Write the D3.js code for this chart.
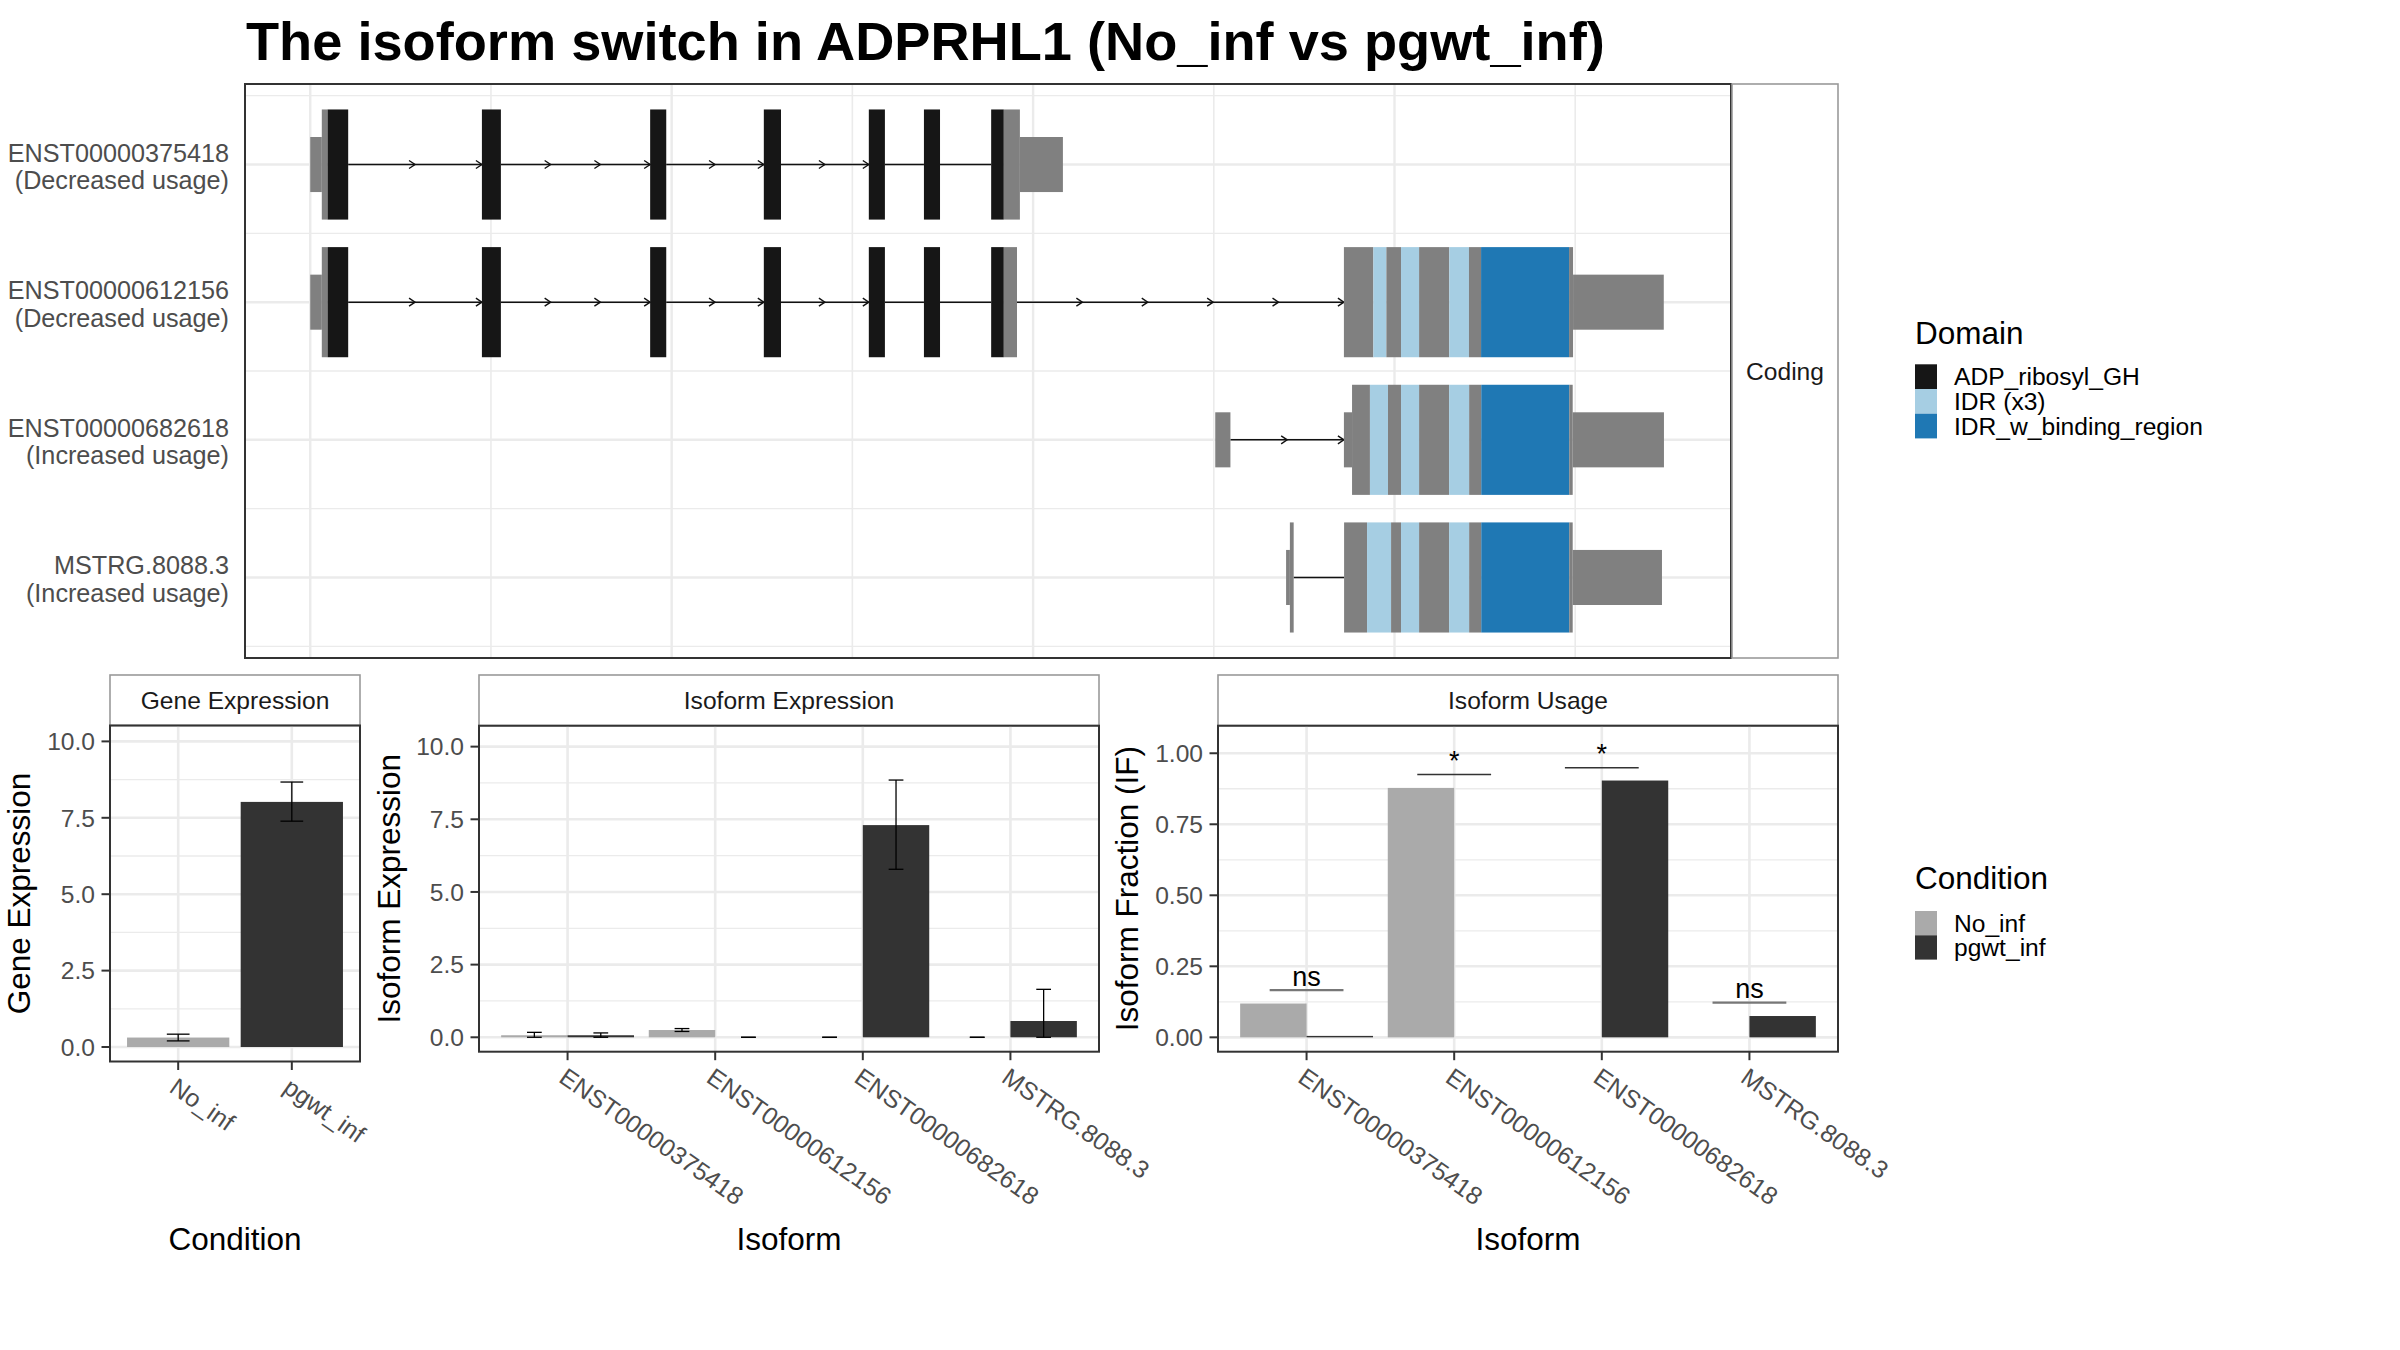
<!DOCTYPE html>
<html><head><meta charset="utf-8">
<script src="https://cdn.jsdelivr.net/npm/d3@7"></script>
<style>
body{margin:0;background:#fff}
svg{display:block}
text{font-family:"Liberation Sans",Arial,Helvetica,sans-serif}
</style>
</head><body>
<svg id="chart" width="2400" height="1350"></svg>
<script>
// ---------------- DATA ----------------
const titleText = "The isoform switch in ADPRHL1 (No_inf vs pgwt_inf)";
const isoforms = ["ENST00000375418", "ENST00000612156", "ENST00000682618", "MSTRG.8088.3"];
const usageNotes = ["(Decreased usage)", "(Decreased usage)", "(Increased usage)", "(Increased usage)"];
const stripLabel = "Coding";
const domainNames = ["ADP_ribosyl_GH", "IDR (x3)", "IDR_w_binding_region"];
const conditions = ["No_inf", "pgwt_inf"];

// exon pieces per transcript: [start, end, kind]  (rescaled genomic coordinate)
// kind: U = UTR, C = coding without domain, A = ADP_ribosyl_GH, I = IDR, B = IDR_w_binding_region
const exons375418 = [
  [0, 64, "U"], [64, 96, "C"], [96, 210, "A"], [950, 1055, "A"], [1881, 1970, "A"],
  [2510, 2605, "A"], [3091, 3180, "A"], [3396, 3485, "A"], [3768, 3838, "A"],
  [3838, 3927, "C"], [3927, 4165, "U"]
];
const exons612156 = [
  [0, 64, "U"], [64, 96, "C"], [96, 210, "A"], [950, 1055, "A"], [1881, 1970, "A"],
  [2510, 2605, "A"], [3091, 3180, "A"], [3396, 3485, "A"], [3768, 3838, "A"],
  [3838, 3911, "C"],
  [5720, 5883, "C"], [5883, 5955, "I"], [5955, 6036, "C"], [6036, 6136, "I"], [6136, 6303, "C"],
  [6303, 6412, "I"], [6412, 6479, "C"], [6479, 6966, "B"], [6966, 6988, "C"], [6988, 7490, "U"]
];
const exons682618 = [
  [5008, 5092, "U"],
  [5720, 5765, "U"], [5765, 5864, "C"], [5864, 5964, "I"], [5964, 6036, "C"], [6036, 6136, "I"],
  [6136, 6302, "C"], [6302, 6413, "I"], [6413, 6480, "C"], [6480, 6967, "B"], [6967, 6986, "C"],
  [6986, 7491, "U"]
];
const exonsMSTRG = [
  [5400, 5421, "U"], [5421, 5442, "C"],
  [5721, 5848, "C"], [5848, 5981, "I"], [5981, 6036, "C"], [6036, 6136, "I"], [6136, 6302, "C"],
  [6302, 6413, "I"], [6413, 6480, "C"], [6480, 6967, "B"], [6967, 6986, "C"], [6986, 7480, "U"]
];
// introns: [start, end, number of direction arrows]
const introns375418 = [[210, 950, 2], [1055, 1881, 3], [1970, 2510, 2], [2605, 3091, 2], [3180, 3396, 0], [3485, 3768, 0]];
const introns612156 = [[210, 950, 2], [1055, 1881, 3], [1970, 2510, 2], [2605, 3091, 2], [3180, 3396, 0], [3485, 3768, 0], [3911, 5720, 5]];
const introns682618 = [[5092, 5720, 2]];
const intronsMSTRG = [[5442, 5721, 0]];
const structureTicks = [0, 1000, 2000, 3000, 4000, 5000, 6000, 7000];

// Gene expression
const geneExpr = [0.31, 8.02];
const geneLo = [0.20, 7.39];
const geneHi = [0.42, 8.67];
const exprTicks = [0, 2.5, 5, 7.5, 10];

// Isoform expression (per isoform)
const isoExprNoInf = [0.07, 0.25, 0, 0];
const isoExprPgwt = [0.07, 0, 7.30, 0.56];
const isoExprNoInfLo = [0, 0.20, 0, 0];
const isoExprNoInfHi = [0.17, 0.30, 0, 0];
const isoExprPgwtLo = [0, 0, 5.78, 0];
const isoExprPgwtHi = [0.15, 0, 8.85, 1.65];

// Isoform usage (IF)
const isoUsageNoInf = [0.119, 0.878, 0, 0];
const isoUsagePgwt = [0.005, 0, 0.904, 0.075];
const usageSigText = ["ns", "*", "*", "ns"];
const usageSigY = [0.166, 0.925, 0.949, 0.122];
const usageTicks = [0, 0.25, 0.5, 0.75, 1.0];

// ---------------- STYLE ----------------
const domainColor = {A: "#161616", I: "#A6CEE3", B: "#1F78B4"};
const exonGray = "#808080";
const condColor = ["#AAAAAA", "#333333"];
const gridCol = "#EBEBEB";
const tickTextCol = "#4D4D4D";
const borderCol = "#333333";
const stripBorder = "#9A9A9A";

const svg = d3.select("#chart");
svg.append("rect").attr("width", 2400).attr("height", 1350).attr("fill", "#fff");

// title
svg.append("text").attr("x", 246).attr("y", 60).attr("font-size", 54.2).attr("font-weight", "bold")
  .attr("fill", "#000").text(titleText);

// ---------------- TOP: transcript structure ----------------
const TP = {x0: 245, x1: 1731, y0: 84, y1: 658};
const xS = d3.scaleLinear().domain([-361, 7862]).range([TP.x0, TP.x1]);
const yS = d3.scaleLinear().domain([4.585, 0.415]).range([TP.y0, TP.y1]);
const gTop = svg.append("g");
gTop.append("rect").attr("x", TP.x0).attr("y", TP.y0).attr("width", TP.x1 - TP.x0).attr("height", TP.y1 - TP.y0).attr("fill", "#fff");
// grid
[0.5, 1.5, 2.5, 3.5, 4.5].forEach(v => gTop.append("line").attr("x1", TP.x0).attr("x2", TP.x1)
  .attr("y1", yS(v)).attr("y2", yS(v)).attr("stroke", gridCol).attr("stroke-width", 1.3));
[1, 2, 3, 4].forEach(v => gTop.append("line").attr("x1", TP.x0).attr("x2", TP.x1)
  .attr("y1", yS(v)).attr("y2", yS(v)).attr("stroke", gridCol).attr("stroke-width", 2.4));
structureTicks.forEach((v, i) => gTop.append("line").attr("y1", TP.y0).attr("y2", TP.y1)
  .attr("x1", xS(v)).attr("x2", xS(v)).attr("stroke", gridCol).attr("stroke-width", i % 2 === 0 ? 2.4 : 1.6));

const allExons = [exons375418, exons612156, exons682618, exonsMSTRG];
const allIntrons = [introns375418, introns612156, introns682618, intronsMSTRG];
isoforms.forEach((iso, i) => {
  const row = 4 - i;
  const cy = yS(row);
  // introns
  allIntrons[i].forEach(([s, e, n]) => {
    gTop.append("line").attr("x1", xS(s)).attr("x2", xS(e)).attr("y1", cy).attr("y2", cy)
      .attr("stroke", "#111").attr("stroke-width", 1.6);
    for (let k = 1; k <= n; k++) {
      const tip = xS(s + (e - s) * k / n);
      gTop.append("path").attr("d", `M${tip - 6},${cy - 4}L${tip},${cy}L${tip - 6},${cy + 4}`)
        .attr("fill", "none").attr("stroke", "#111").attr("stroke-width", 1.4);
    }
  });
  // exon pieces
  allExons[i].forEach(([s, e, kind]) => {
    const half = kind === "U" ? 0.2 : 0.4;
    const col = kind === "U" || kind === "C" ? exonGray : domainColor[kind];
    gTop.append("rect").attr("x", xS(s)).attr("width", xS(e) - xS(s))
      .attr("y", yS(row + half)).attr("height", yS(row - half) - yS(row + half)).attr("fill", col);
  });
  // labels
  gTop.append("text").attr("x", 229).attr("y", cy - 3).attr("text-anchor", "end")
    .attr("font-size", 25.2).attr("fill", tickTextCol).text(iso);
  gTop.append("text").attr("x", 229).attr("y", cy + 24.5).attr("text-anchor", "end")
    .attr("font-size", 25.2).attr("fill", tickTextCol).text(usageNotes[i]);
});
gTop.append("rect").attr("x", TP.x0).attr("y", TP.y0).attr("width", TP.x1 - TP.x0).attr("height", TP.y1 - TP.y0)
  .attr("fill", "none").attr("stroke", borderCol).attr("stroke-width", 2);
// right strip
gTop.append("rect").attr("x", TP.x1 + 1).attr("y", TP.y0).attr("width", 106).attr("height", TP.y1 - TP.y0)
  .attr("fill", "#fff").attr("stroke", stripBorder).attr("stroke-width", 1.6);
gTop.append("text").attr("x", TP.x1 + 54).attr("y", (TP.y0 + TP.y1) / 2 + 8.8).attr("text-anchor", "middle")
  .attr("font-size", 24.6).attr("fill", "#1A1A1A").text(stripLabel);

// ---------------- BOTTOM PANELS ----------------
function panel(cfg) {
  const g = svg.append("g");
  const x = d3.scalePoint().domain(cfg.cats).range([cfg.x0, cfg.x1]).padding(0.6);
  const step = x.step();
  const y = d3.scaleLinear().domain(cfg.domain).range([cfg.yb, cfg.yt]);
  // strip
  g.append("rect").attr("x", cfg.x0).attr("y", cfg.ys).attr("width", cfg.x1 - cfg.x0).attr("height", cfg.yt - cfg.ys)
    .attr("fill", "#fff").attr("stroke", stripBorder).attr("stroke-width", 1.6);
  g.append("text").attr("x", (cfg.x0 + cfg.x1) / 2).attr("y", (cfg.ys + cfg.yt) / 2 + 8.8)
    .attr("text-anchor", "middle").attr("font-size", 24.6).attr("fill", "#1A1A1A").text(cfg.strip);
  // grid
  const t = cfg.ticks;
  const minor = t.slice(1).map((v, i) => (v + t[i]) / 2);
  minor.forEach(v => g.append("line").attr("x1", cfg.x0).attr("x2", cfg.x1).attr("y1", y(v)).attr("y2", y(v))
    .attr("stroke", gridCol).attr("stroke-width", 1.3));
  t.forEach(v => g.append("line").attr("x1", cfg.x0).attr("x2", cfg.x1).attr("y1", y(v)).attr("y2", y(v))
    .attr("stroke", gridCol).attr("stroke-width", 2.6));
  cfg.cats.forEach(c => g.append("line").attr("x1", x(c)).attr("x2", x(c)).attr("y1", cfg.yt).attr("y2", cfg.yb)
    .attr("stroke", gridCol).attr("stroke-width", 2.6));
  cfg.draw(g, x, y, step);
  // border
  g.append("rect").attr("x", cfg.x0).attr("y", cfg.yt).attr("width", cfg.x1 - cfg.x0).attr("height", cfg.yb - cfg.yt)
    .attr("fill", "none").attr("stroke", borderCol).attr("stroke-width", 2);
  // y axis
  t.forEach(v => {
    g.append("line").attr("x1", cfg.x0 - 8.5).attr("x2", cfg.x0).attr("y1", y(v)).attr("y2", y(v))
      .attr("stroke", borderCol).attr("stroke-width", 2);
    g.append("text").attr("x", cfg.x0 - 15).attr("y", y(v) + 8.8).attr("text-anchor", "end")
      .attr("font-size", 24.6).attr("fill", tickTextCol).text(cfg.fmt(v));
  });
  // x axis
  cfg.cats.forEach(c => {
    g.append("line").attr("x1", x(c)).attr("x2", x(c)).attr("y1", cfg.yb).attr("y2", cfg.yb + 8.5)
      .attr("stroke", borderCol).attr("stroke-width", 2);
    g.append("text").attr("transform", `translate(${x(c)},${cfg.yb + 15}) rotate(35)`)
      .attr("x", 0).attr("y", 17.6).attr("font-size", 24.8).attr("fill", tickTextCol).text(c);
  });
  // titles
  g.append("text").attr("x", (cfg.x0 + cfg.x1) / 2).attr("y", 1250).attr("text-anchor", "middle")
    .attr("font-size", 31.5).attr("fill", "#000").text(cfg.xTitle);
  g.append("text").attr("transform", `translate(${cfg.yTitleX},${(cfg.yt + cfg.yb) / 2}) rotate(-90)`)
    .attr("text-anchor", "middle").attr("font-size", 31.5).attr("fill", "#000").text(cfg.yTitle);
  return g;
}

function errbar(g, cx, hw, yLo, yHi) {
  g.append("line").attr("x1", cx).attr("x2", cx).attr("y1", yLo).attr("y2", yHi).attr("stroke", "#000").attr("stroke-width", 1.3);
  [yLo, yHi].forEach(yy => g.append("line").attr("x1", cx - hw).attr("x2", cx + hw).attr("y1", yy).attr("y2", yy)
    .attr("stroke", "#000").attr("stroke-width", 1.3));
}

// Gene expression
panel({
  x0: 110, x1: 360, ys: 675, yt: 725.5, yb: 1061.5, domain: [-0.474, 10.52], cats: conditions,
  ticks: exprTicks, fmt: d3.format(".1f"), strip: "Gene Expression", xTitle: "Condition",
  yTitle: "Gene Expression", yTitleX: 30,
  draw: (g, x, y, step) => {
    conditions.forEach((c, i) => {
      g.append("rect").attr("x", x(c) - 0.45 * step).attr("width", 0.9 * step)
        .attr("y", y(geneExpr[i])).attr("height", y(0) - y(geneExpr[i])).attr("fill", condColor[i]);
    });
    conditions.forEach((c, i) => errbar(g, x(c), 0.1 * step, y(geneLo[i]), y(geneHi[i])));
  }
});

// Isoform expression
panel({
  x0: 479, x1: 1099, ys: 675, yt: 725.7, yb: 1051.7, domain: [-0.496, 10.72], cats: isoforms,
  ticks: exprTicks, fmt: d3.format(".1f"), strip: "Isoform Expression", xTitle: "Isoform",
  yTitle: "Isoform Expression", yTitleX: 400,
  draw: (g, x, y, step) => {
    const vals = [isoExprNoInf, isoExprPgwt], lo = [isoExprNoInfLo, isoExprPgwtLo], hi = [isoExprNoInfHi, isoExprPgwtHi];
    isoforms.forEach((c, j) => {
      [0, 1].forEach(k => {
        const bx = x(c) + (k - 1) * 0.45 * step;
        const v = vals[k][j];
        if (v > 0) g.append("rect").attr("x", bx).attr("width", 0.45 * step)
          .attr("y", y(v)).attr("height", y(0) - y(v)).attr("fill", condColor[k]);
      });
    });
    isoforms.forEach((c, j) => {
      [0, 1].forEach(k => {
        const cx = x(c) + (k - 0.5) * 0.45 * step;
        errbar(g, cx, 0.05 * step, y(lo[k][j]), y(hi[k][j]));
      });
    });
  }
});

// Isoform usage
panel({
  x0: 1218, x1: 1838, ys: 675, yt: 725.7, yb: 1051.7, domain: [-0.0506, 1.097], cats: isoforms,
  ticks: usageTicks, fmt: d3.format(".2f"), strip: "Isoform Usage", xTitle: "Isoform",
  yTitle: "Isoform Fraction (IF)", yTitleX: 1138,
  draw: (g, x, y, step) => {
    const vals = [isoUsageNoInf, isoUsagePgwt];
    isoforms.forEach((c, j) => {
      [0, 1].forEach(k => {
        const bx = x(c) + (k - 1) * 0.45 * step;
        const v = vals[k][j];
        if (v > 0) g.append("rect").attr("x", bx).attr("width", 0.45 * step)
          .attr("y", y(v)).attr("height", y(0) - y(v)).attr("fill", condColor[k]);
      });
      const ly = y(usageSigY[j]);
      const ns = usageSigText[j] === "ns";
      g.append("line").attr("x1", x(c) - 0.25 * step).attr("x2", x(c) + 0.25 * step).attr("y1", ly).attr("y2", ly)
        .attr("stroke", ns ? "#777" : "#333").attr("stroke-width", ns ? 2.4 : 1.6);
      g.append("text").attr("x", x(c)).attr("y", ly - 4.5).attr("text-anchor", "middle")
        .attr("font-size", 27).attr("fill", "#000").text(usageSigText[j]);
    });
  }
});

// ---------------- LEGENDS ----------------
function legend(title, labels, colors, titleY, keyY0, keyH) {
  const g = svg.append("g");
  g.append("text").attr("x", 1915).attr("y", titleY).attr("font-size", 31.5).attr("fill", "#000").text(title);
  labels.forEach((l, i) => {
    const ky = keyY0 + i * keyH;
    g.append("rect").attr("x", 1915).attr("y", ky).attr("width", 22).attr("height", keyH).attr("fill", colors[i]);
    g.append("text").attr("x", 1954).attr("y", ky + keyH / 2 + 8.8).attr("font-size", 24.6).attr("fill", "#000").text(l);
  });
}
legend("Domain", domainNames, [domainColor.A, domainColor.I, domainColor.B], 344, 364.3, 24.7);
legend("Condition", conditions, condColor, 889, 911, 24.3);
</script>
</body></html>
